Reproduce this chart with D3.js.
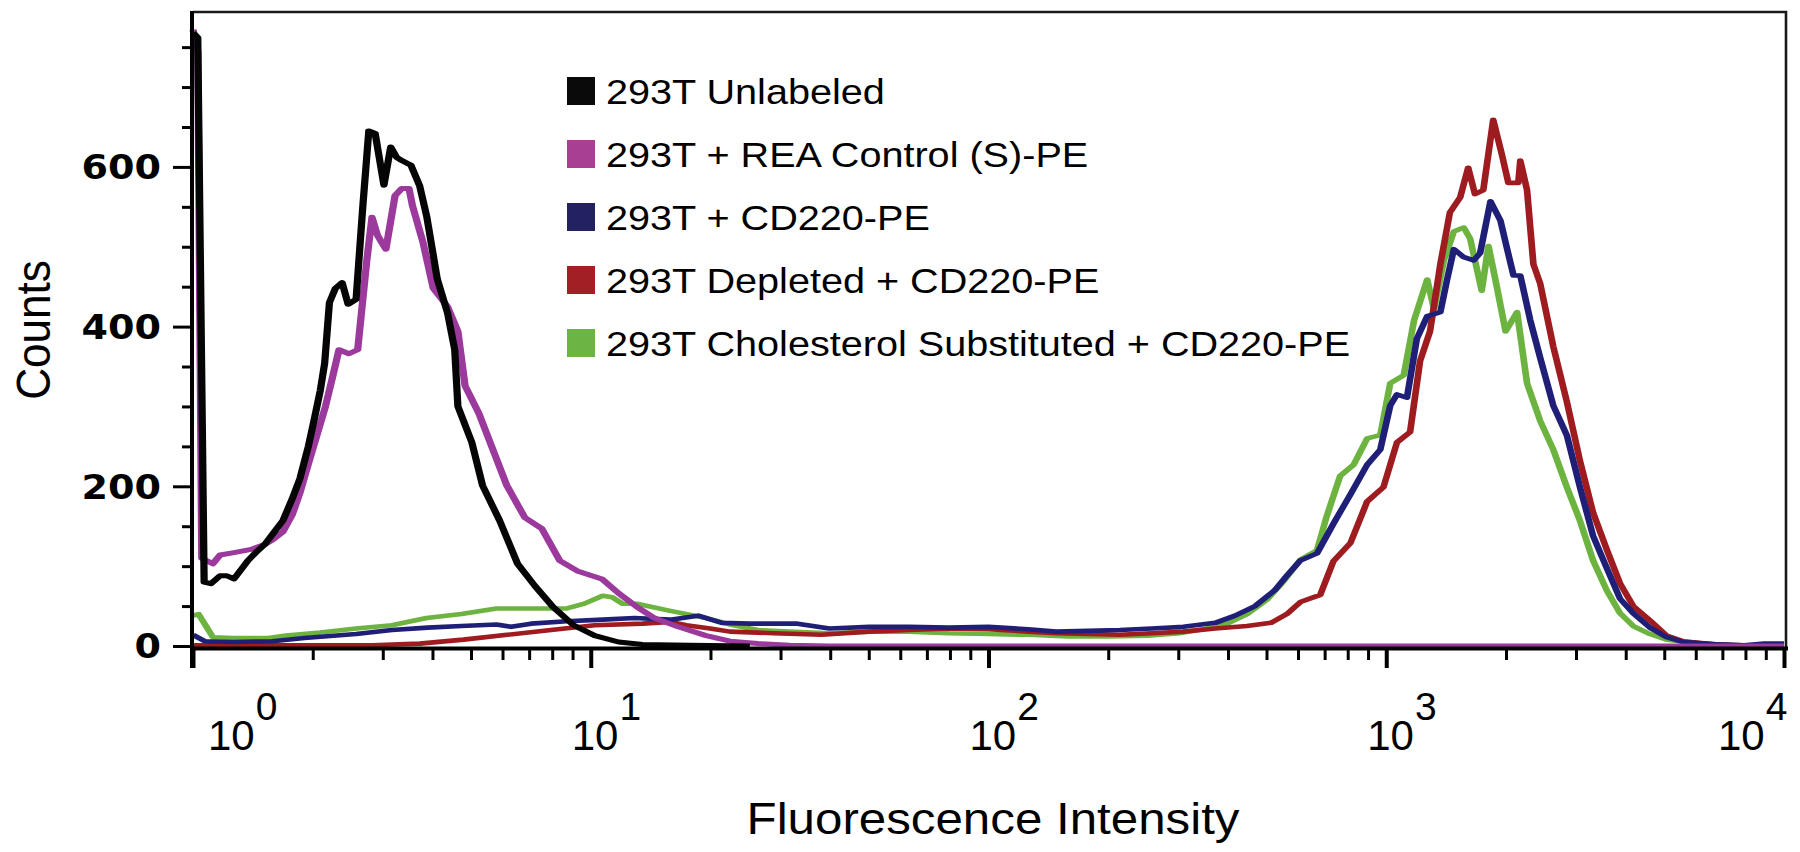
<!DOCTYPE html>
<html>
<head>
<meta charset="utf-8">
<script src="https://cdn.jsdelivr.net/npm/d3@7"></script>
<style>
  body { margin: 0; background: #fff; }
  svg { display: block; }
</style>
</head>
<body>
<svg id="chart" width="1800" height="852"></svg>
<script>
// ---------------- DATA ----------------
// Each point: [log10(fluorescence intensity), counts]
const unlabeled = [[0,768],[0.012,762],[0.028,80],[0.045,78],[0.068,88],[0.085,88],[0.103,84],[0.12,95],[0.138,107],[0.16,118],[0.18,127],[0.2,140],[0.226,157],[0.25,185],[0.269,210],[0.29,250],[0.304,282],[0.32,320],[0.331,354],[0.343,430],[0.358,448],[0.375,455],[0.39,428],[0.41,434],[0.427,551],[0.442,645],[0.458,642],[0.48,577],[0.497,625],[0.512,612],[0.525,608],[0.548,602],[0.57,576],[0.588,537],[0.614,460],[0.64,417],[0.658,371],[0.666,300],[0.701,255],[0.728,201],[0.771,157],[0.816,103],[0.86,75],[0.905,49],[0.957,26],[1.01,13],[1.07,5],[1.13,2],[1.25,1],[1.4,0]];

const reaControl = [[0,772],[0.012,745],[0.022,110],[0.05,103],[0.068,114],[0.103,117],[0.146,121],[0.18,127],[0.2,133],[0.226,143],[0.25,165],[0.269,192],[0.29,228],[0.314,268],[0.333,300],[0.35,335],[0.367,371],[0.392,366],[0.414,371],[0.437,483],[0.45,537],[0.464,514],[0.485,497],[0.508,564],[0.525,573],[0.543,573],[0.552,551],[0.578,506],[0.604,448],[0.64,425],[0.666,394],[0.684,326],[0.719,291],[0.754,246],[0.789,201],[0.834,161],[0.877,147],[0.922,107],[0.966,94],[1.028,84],[1.07,66],[1.116,49],[1.16,35],[1.22,24],[1.29,13],[1.35,6],[1.42,3],[1.5,1],[1.6,0],[4,0]];

const cd220 = [[0,14],[0.03,6],[0.1,5],[0.2,6],[0.28,10],[0.41,15],[0.5,20],[0.59,23],[0.675,25],[0.763,27],[0.8,24],[0.85,28],[0.94,31],[1.03,33],[1.11,35],[1.2,33],[1.27,38],[1.33,29],[1.4,28],[1.52,28],[1.6,22],[1.7,24],[1.8,24],[1.9,23],[2.0,24],[2.1,21],[2.17,18],[2.25,19],[2.33,20],[2.41,22],[2.49,24],[2.57,29],[2.62,38],[2.67,50],[2.72,70],[2.75,88],[2.784,107],[2.826,116],[2.867,153],[2.91,190],[2.952,227],[2.985,246],[3.01,301],[3.027,315],[3.052,311],[3.077,385],[3.103,413],[3.136,418],[3.153,459],[3.17,497],[3.195,487],[3.22,483],[3.236,492],[3.262,557],[3.287,533],[3.304,497],[3.32,464],[3.337,464],[3.362,408],[3.387,361],[3.42,301],[3.454,264],[3.487,199],[3.52,138],[3.555,97],[3.588,59],[3.621,41],[3.663,23],[3.705,11],[3.747,5],[3.83,2],[3.9,1],[3.95,3],[4,3]];

const depleted = [[0,1],[0.45,1],[0.57,3],[0.68,8],[0.79,14],[0.9,20],[1.01,26],[1.13,28],[1.2,30],[1.24,26],[1.3,22],[1.35,18],[1.46,16],[1.58,14],[1.7,18],[1.8,20],[1.9,22],[2.0,21],[2.1,18],[2.17,16],[2.25,15],[2.33,14],[2.41,16],[2.49,18],[2.57,22],[2.65,25],[2.71,29],[2.75,40],[2.784,55],[2.834,64],[2.867,106],[2.91,129],[2.952,181],[2.993,199],[3.027,255],[3.06,268],[3.085,357],[3.11,394],[3.136,478],[3.16,543],[3.186,562],[3.206,599],[3.223,566],[3.244,571],[3.269,659],[3.29,617],[3.307,580],[3.332,580],[3.337,608],[3.354,571],[3.37,478],[3.387,454],[3.42,375],[3.454,306],[3.487,232],[3.52,167],[3.555,120],[3.588,78],[3.621,50],[3.663,32],[3.705,13],[3.747,6],[3.83,2],[3.95,0],[4,0]];

const cholesterol = [[0,38],[0.014,40],[0.05,11],[0.1,10],[0.19,10],[0.234,13],[0.32,17],[0.41,22],[0.5,26],[0.587,35],[0.675,40],[0.763,47],[0.85,47],[0.94,47],[0.984,53],[1.03,63],[1.054,61],[1.08,53],[1.116,53],[1.2,44],[1.29,35],[1.35,27],[1.42,20],[1.5,18],[1.6,16],[1.7,18],[1.8,18],[1.9,16],[2.0,15],[2.1,14],[2.2,12],[2.3,12],[2.4,13],[2.48,16],[2.55,22],[2.6,28],[2.65,40],[2.7,58],[2.74,80],[2.784,108],[2.826,120],[2.85,162],[2.884,213],[2.918,227],[2.952,260],[2.985,264],[3.01,329],[3.044,339],[3.07,408],[3.103,459],[3.12,422],[3.145,483],[3.17,519],[3.195,524],[3.211,510],[3.24,445],[3.257,501],[3.278,450],[3.3,394],[3.329,418],[3.354,329],[3.387,282],[3.42,246],[3.454,199],[3.487,157],[3.52,107],[3.555,69],[3.588,41],[3.621,25],[3.663,15],[3.705,8],[3.79,3],[3.9,0],[4,0]];

const legendLabels = ["293T Unlabeled", "293T + REA Control (S)-PE", "293T + CD220-PE", "293T Depleted + CD220-PE", "293T Cholesterol Substituted + CD220-PE"];
const xTickExponents = [0, 1, 2, 3, 4];
const yMajorTicks = [0, 200, 400, 600];
const yMinorTicks = [50, 100, 150, 250, 300, 350, 450, 500, 550, 650, 700, 750];
const xAxisTitle = "Fluorescence Intensity";
const yAxisTitle = "Counts";

// ---------------- STYLES ----------------
const lineColors   = ["#050505", "#9b3a9c", "#1f1f78", "#9e1c1f", "#6db33f"];
const legendColors = ["#0a0a0a", "#a83f93", "#23215f", "#a21f25", "#6cb444"];
const seriesData = [unlabeled, reaControl, cd220, depleted, cholesterol];
const drawOrder = [4, 3, 2, 1, 0];

// ---------------- LAYOUT ----------------
const plot = { left: 193, right: 1784, top: 12, bottom: 646 };
const svg = d3.select("#chart");

const x = d3.scaleLog().domain([1, 1e4]).range([plot.left, plot.right]);
const y = d3.scaleLinear().domain([0, 794]).range([plot.bottom, plot.top]);

// lines (drawn in a horizontally stretched space so steep parts look thicker, like the source)
const SX = 1.45;
const lineGen = d3.line()
  .x(d => x(Math.pow(10, d[0])) / SX)
  .y(d => y(d[1]));

const lineG = svg.append("g").attr("transform", `scale(${SX},1)`);
lineG.selectAll("path")
  .data(drawOrder)
  .join("path")
  .attr("d", i => lineGen(seriesData[i]))
  .attr("fill", "none")
  .attr("stroke", i => lineColors[i])
  .attr("stroke-width", i => (i <= 1 ? 5 : 4.6))
  .attr("stroke-linejoin", "round")
  .attr("stroke-linecap", "butt");

// frame (top & right)
svg.append("path")
  .attr("d", `M${plot.left},12 H1786 V647`)
  .attr("fill", "none")
  .attr("stroke", "#1a1a1a")
  .attr("stroke-width", 2.6);

// y axis
const yAxisMajor = d3.axisLeft(y).tickValues(yMajorTicks).tickSize(19).tickFormat("");
const yAxisMinor = d3.axisLeft(y).tickValues(yMinorTicks).tickSize(10).tickFormat("");
const gyMaj = svg.append("g").attr("transform", `translate(${plot.left - 1},0)`).call(yAxisMajor);
const gyMin = svg.append("g").attr("transform", `translate(${plot.left - 1},0)`).call(yAxisMinor);
[gyMaj, gyMin].forEach(g => {
  g.select(".domain").remove();
  g.selectAll(".tick line").attr("stroke", "#000").attr("stroke-width", 3);
});

// y tick labels
svg.append("g").selectAll("text")
  .data(yMajorTicks)
  .join("text")
  .attr("transform", d => `translate(161,${y(d)}) scale(1.12,1)`)
  .attr("dy", "0.36em")
  .attr("text-anchor", "end")
  .attr("font-family", "'DejaVu Sans', sans-serif")
  .attr("font-weight", "bold")
  .attr("font-size", 34)
  .attr("fill", "#000")
  .text(d => d);

// x axis
const majorVals = xTickExponents.map(e => Math.pow(10, e));
const minorVals = [];
xTickExponents.slice(0, -1).forEach(e => {
  for (let m = 2; m <= 9; m++) minorVals.push(m * Math.pow(10, e));
});
const xAxisMajor = d3.axisBottom(x).tickValues(majorVals).tickSize(21).tickFormat("");
const xAxisMinor = d3.axisBottom(x).tickValues(minorVals).tickSize(13).tickFormat("");
const gxMaj = svg.append("g").attr("transform", `translate(0,${plot.bottom + 1})`).call(xAxisMajor);
const gxMin = svg.append("g").attr("transform", `translate(0,${plot.bottom + 1})`).call(xAxisMinor);
gxMaj.select(".domain").remove();
gxMin.select(".domain").remove();
gxMaj.selectAll(".tick line").attr("stroke", "#000").attr("stroke-width", 4);
gxMin.selectAll(".tick line").attr("stroke", "#000").attr("stroke-width", 3);

// axis lines (left and bottom, thick)
svg.append("line")
  .attr("x1", plot.left - 1).attr("x2", plot.left - 1)
  .attr("y1", 11).attr("y2", 668)
  .attr("stroke", "#000").attr("stroke-width", 4);
svg.append("line")
  .attr("x1", plot.left - 3).attr("x2", 1788)
  .attr("y1", plot.bottom + 2.5).attr("y2", plot.bottom + 2.5)
  .attr("stroke", "#000").attr("stroke-width", 4);

// x tick labels: 10^n
const xl = svg.append("g").selectAll("text")
  .data(xTickExponents)
  .join("text")
  .attr("x", e => {
    const t = x(Math.pow(10, e));
    return Math.min(Math.max(t - 19, plot.left + 15), plot.right + 2 - 68);
  })
  .attr("y", 750)
  .attr("font-family", "'Liberation Sans', Arial, sans-serif")
  .attr("font-size", 42)
  .attr("fill", "#000");
xl.append("tspan").text("10");
xl.append("tspan")
  .attr("dx", 1)
  .attr("dy", -30)
  .attr("font-size", 39)
  .text(e => e);

// axis titles
svg.append("text")
  .attr("transform", "translate(993,834) scale(1.12,1)")
  .attr("text-anchor", "middle")
  .attr("font-family", "'Liberation Sans', Arial, sans-serif")
  .attr("font-size", 44)
  .attr("fill", "#000")
  .text(xAxisTitle);

svg.append("text")
  .attr("transform", "translate(50,330) rotate(-90) scale(0.9,1)")
  .attr("text-anchor", "middle")
  .attr("font-family", "'Liberation Sans', Arial, sans-serif")
  .attr("font-size", 49)
  .attr("fill", "#000")
  .text(yAxisTitle);

// legend
const legend = svg.append("g");
const rowH = 63, row0 = 91;
const items = legend.selectAll("g")
  .data(legendLabels)
  .join("g")
  .attr("transform", (d, i) => `translate(0,${row0 + i * rowH})`);
items.append("rect")
  .attr("x", 567).attr("y", -14)
  .attr("width", 28).attr("height", 28)
  .attr("fill", (d, i) => legendColors[i]);
items.append("text")
  .attr("transform", "translate(606,13) scale(1.1,1)")
  .attr("font-family", "'Liberation Sans', Arial, sans-serif")
  .attr("font-size", 36)
  .attr("fill", "#000")
  .text(d => d);
</script>
</body>
</html>
